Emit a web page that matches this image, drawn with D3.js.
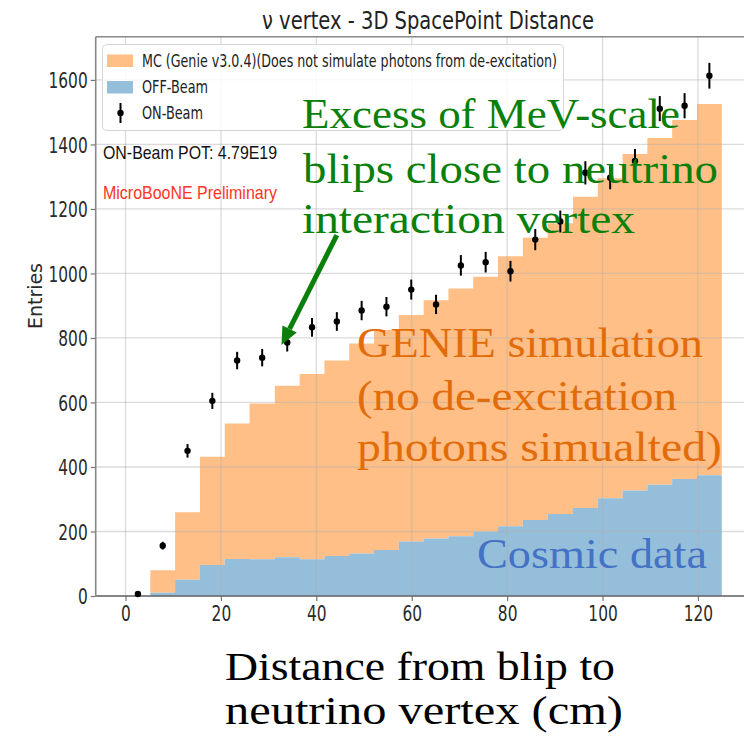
<!DOCTYPE html>
<html>
<head>
<meta charset="utf-8">
<script src="https://cdn.jsdelivr.net/npm/d3@7"></script>
<style>
  html, body { margin: 0; padding: 0; background: #fff; }
  svg { display: block; }
</style>
</head>
<body>
<svg id="chart" width="744" height="740"></svg>
<script>
// Histogram bin edges (cm), 24 bins from 0 to 125
const binEdges = [0, 5.2, 10.4, 15.6, 20.8, 26.0, 31.3, 36.5, 41.7, 46.9, 52.1, 57.3,
                  62.5, 67.7, 72.9, 78.1, 83.3, 88.5, 93.8, 99.0, 104.2, 109.4, 114.6, 119.8, 125.0];

// OFF-Beam (cosmic) entries per bin
const offBeam = [0, 10, 50, 96, 115, 114, 120, 114, 124, 132, 143, 169,
                 178, 185, 200, 216, 236, 254, 273, 303, 327, 345, 363, 374];

// MC (GENIE) entries per bin, stacked on top of OFF-Beam
const mcGenie = [0, 70, 210, 336, 420, 483, 532, 574, 606, 651, 682, 702,
                 739, 768, 790, 837, 875, 902, 965, 992, 1043, 1075, 1113, 1151];

// ON-Beam data entries per bin and their uncertainties
const onBeam = [6, 156, 450, 605, 730, 739, 786, 833, 851, 885, 897, 950,
                904, 1025, 1035, 1007, 1105, 1161, 1312, 1297, 1349, 1511, 1520, 1613];
const onBeamErr = [2, 12, 21, 25, 27, 27, 28, 29, 29, 30, 30, 31,
                   30, 32, 32, 32, 33, 34, 36, 36, 37, 39, 39, 40];

const xTicks = [0, 20, 40, 60, 80, 100, 120];
const yTicks = [0, 200, 400, 600, 800, 1000, 1200, 1400, 1600];

const legendLabels = ["MC (Genie v3.0.4)(Does not simulate photons from de-excitation)", "OFF-Beam", "ON-Beam"];

const svg = d3.select("#chart");
svg.append("rect").attr("width", 744).attr("height", 740).attr("fill", "#fff");

const plot = { left: 95.7, right: 751.6, top: 36.7, bottom: 596 };
const x = d3.scaleLinear().domain([-6.25, 131.25]).range([plot.left, plot.right]);
const y = d3.scaleLinear().domain([0, 1734]).range([plot.bottom, plot.top]);

const ORANGE = "#ffbf86";
const BLUE = "#95bedb";

// stacked step histograms
const bins = binEdges.slice(0, -1).map((lo, i) => ({
  lo, hi: binEdges[i + 1], off: offBeam[i], mc: mcGenie[i], on: onBeam[i], err: onBeamErr[i]
}));
const stepPts = bins.map(b => ({ e: b.lo, off: b.off, tot: b.off + b.mc }));
const lastBin = bins[bins.length - 1];
stepPts.push({ e: binEdges[binEdges.length - 1], off: lastBin.off, tot: lastBin.off + lastBin.mc });

const areaMC = d3.area().curve(d3.curveStepAfter)
  .x(d => x(d.e)).y0(d => y(d.off)).y1(d => y(d.tot));
const areaOff = d3.area().curve(d3.curveStepAfter)
  .x(d => x(d.e)).y0(y(0)).y1(d => y(d.off));

svg.append("path").datum(stepPts).attr("d", areaMC).attr("fill", ORANGE);
svg.append("path").datum(stepPts).attr("d", areaOff).attr("fill", BLUE);

// grid
const grid = svg.append("g").attr("stroke", "#b0b0b0").attr("stroke-opacity", 0.45).attr("stroke-width", 1.3);
grid.selectAll(".gx").data(xTicks).join("line")
  .attr("x1", d => x(d)).attr("x2", d => x(d)).attr("y1", plot.top).attr("y2", plot.bottom);
grid.selectAll(".gy").data(yTicks).join("line")
  .attr("x1", plot.left).attr("x2", 744).attr("y1", d => y(d)).attr("y2", d => y(d));

// axes (narrow, tall tick labels)
const fmt = d3.format("d");
const xAxis = d3.axisBottom(x).tickValues(xTicks).tickFormat(fmt).tickSize(5).tickPadding(4);
const yAxis = d3.axisLeft(y).tickValues(yTicks).tickFormat(fmt).tickSize(5).tickPadding(3);
const gx = svg.append("g").attr("transform", `translate(0,${plot.bottom})`).call(xAxis);
const gy = svg.append("g").attr("transform", `translate(${plot.left},0)`).call(yAxis);
[gx, gy].forEach(g => {
  g.select(".domain").remove();
  g.selectAll(".tick line").attr("stroke", "#777").attr("stroke-width", 1.2);
  g.selectAll(".tick text").attr("fill", "#2a2a2a")
    .attr("textLength", d => fmt(d).length * 9.8).attr("lengthAdjust", "spacingAndGlyphs")
    .style("font-family", "DejaVu Sans").style("font-size", "22px");
});
gx.selectAll(".tick text").attr("dy", "0.72em");
gy.selectAll(".tick text").attr("dy", "0.36em");

// spines
svg.append("line").attr("x1", plot.left).attr("x2", 744).attr("y1", plot.bottom).attr("y2", plot.bottom)
  .attr("stroke", "#666").attr("stroke-width", 1.6);
svg.append("line").attr("x1", plot.left).attr("x2", plot.left).attr("y1", plot.top).attr("y2", plot.bottom)
  .attr("stroke", "#888").attr("stroke-width", 1.6);
svg.append("line").attr("x1", plot.left).attr("x2", 744).attr("y1", plot.top).attr("y2", plot.top)
  .attr("stroke", "#888").attr("stroke-width", 1.6);

// ON-Beam points with error bars
const pts = svg.append("g");
pts.selectAll("line").data(bins).join("line")
  .attr("x1", d => x((d.lo + d.hi) / 2)).attr("x2", d => x((d.lo + d.hi) / 2))
  .attr("y1", d => y(d.on - d.err)).attr("y2", d => y(d.on + d.err))
  .attr("stroke", "#000").attr("stroke-width", 2);
pts.selectAll("circle").data(bins).join("circle")
  .attr("cx", d => x((d.lo + d.hi) / 2)).attr("cy", d => y(d.on)).attr("r", 3.2).attr("fill", "#000");

// title and y label
svg.append("text").attr("x", 428).attr("y", 29).attr("text-anchor", "middle")
  .attr("textLength", 332).attr("lengthAdjust", "spacingAndGlyphs")
  .style("font-family", "DejaVu Sans").style("font-size", "24px").attr("fill", "#222")
  .text("\u03BD vertex - 3D SpacePoint Distance");
svg.append("text").attr("transform", "translate(42,296) rotate(-90)").attr("text-anchor", "middle")
  .attr("textLength", 66).attr("lengthAdjust", "spacingAndGlyphs")
  .style("font-family", "DejaVu Sans").style("font-size", "19px").attr("fill", "#2a2a2a")
  .text("Entries");

// legend
const lg = svg.append("g");
lg.append("rect").attr("x", 102.5).attr("y", 44.5).attr("width", 461).attr("height", 86).attr("rx", 4)
  .attr("fill", "#fff").attr("fill-opacity", 0.85).attr("stroke", "#d6d6d6").attr("stroke-width", 1);
lg.append("rect").attr("x", 107).attr("y", 54.5).attr("width", 26).attr("height", 12.5).attr("fill", ORANGE);
lg.append("rect").attr("x", 107).attr("y", 81).attr("width", 26).attr("height", 12.5).attr("fill", BLUE);
lg.append("line").attr("x1", 120.5).attr("x2", 120.5).attr("y1", 103).attr("y2", 123).attr("stroke", "#000").attr("stroke-width", 2);
lg.append("circle").attr("cx", 120.5).attr("cy", 113).attr("r", 3.2).attr("fill", "#000");
const legendW = [415, 66, 61];
lg.selectAll(".lt").data(legendLabels).join("text")
  .attr("x", 142).attr("y", (d, i) => 67 + i * 26)
  .attr("textLength", (d, i) => legendW[i]).attr("lengthAdjust", "spacingAndGlyphs")
  .style("font-family", "DejaVu Sans").style("font-size", "17.5px").attr("fill", "#222")
  .text(d => d);

// exposure and preliminary labels
svg.append("text").attr("x", 103).attr("y", 158.5)
  .attr("textLength", 174).attr("lengthAdjust", "spacingAndGlyphs")
  .style("font-family", "Liberation Sans").style("font-size", "19px").attr("fill", "#111")
  .text("ON-Beam POT: 4.79E19");
svg.append("text").attr("x", 103).attr("y", 199)
  .attr("textLength", 174).attr("lengthAdjust", "spacingAndGlyphs")
  .style("font-family", "Liberation Sans").style("font-size", "19px").attr("fill", "#ff3526")
  .text("MicroBooNE Preliminary");

// annotations
function block(lines, color, size) {
  lines.forEach(l => {
    svg.append("text").attr("x", l.x).attr("y", l.y)
      .attr("textLength", l.w).attr("lengthAdjust", "spacingAndGlyphs")
      .style("font-family", "Liberation Serif").style("font-size", size + "px").attr("fill", color)
      .text(l.t);
  });
}
block([
  { t: "Excess of MeV-scale", x: 302, y: 128, w: 378 },
  { t: "blips close to neutrino", x: 303, y: 183, w: 415 },
  { t: "interaction vertex", x: 302, y: 233, w: 333 }
], "#0a7f0a", 42);
block([
  { t: "GENIE simulation", x: 357, y: 357, w: 346 },
  { t: "(no de-excitation", x: 357, y: 410, w: 320 },
  { t: "photons simualted)", x: 357, y: 461, w: 365 }
], "#e36c0a", 42);
block([{ t: "Cosmic data", x: 477, y: 568, w: 230 }], "#4472c4", 42);
block([
  { t: "Distance from blip to", x: 225, y: 680, w: 390 },
  { t: "neutrino vertex (cm)", x: 225, y: 724, w: 398 }
], "#000", 40);

// arrow pointing at the excess
const tail = [x(44.3), y(1119)], tip = [x(32.7), y(778)];
const ang = Math.atan2(tip[1] - tail[1], tip[0] - tail[0]);
const headL = 18, headW = 8;
const base = [tip[0] - headL * Math.cos(ang), tip[1] - headL * Math.sin(ang)];
svg.append("line").attr("x1", tail[0]).attr("y1", tail[1]).attr("x2", base[0]).attr("y2", base[1])
  .attr("stroke", "#0a7f0a").attr("stroke-width", 5);
svg.append("path").attr("fill", "#0a7f0a").attr("d", d3.line()([
  tip,
  [base[0] + headW * Math.sin(ang), base[1] - headW * Math.cos(ang)],
  [base[0] - headW * Math.sin(ang), base[1] + headW * Math.cos(ang)]
]) + "Z");
</script>
</body>
</html>
